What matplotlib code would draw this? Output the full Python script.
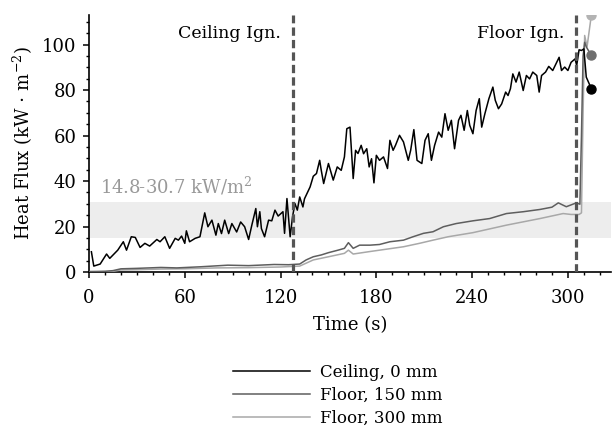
import numpy as np
import matplotlib
matplotlib.use('Agg')
import matplotlib.pyplot as plt
from matplotlib.ticker import MultipleLocator

plt.rcParams['font.family'] = ['DejaVu Serif']
plt.rcParams['mathtext.fontset'] = 'dejavuserif'

# ceiling heat flux gauge (0 mm)
ceiling_t = [1.5, 3, 7, 11, 13, 18, 21.5, 23.5, 26.5, 29, 32, 35, 38, 42.5, 44.5, 47.5, 50.5, 54, 56, 58,
             60, 61, 63, 66.5, 69.5, 72.5, 74.5, 77, 79.5, 81, 83, 85, 87.5, 89.5, 92.5, 95, 97.5, 100, 102,
             104.5, 105.5, 107, 108, 110, 112.5, 114.5, 116.5, 118.5, 121.5, 122.5, 124, 126, 127.5, 129,
             130.5, 132, 134, 135, 138.5, 140.5, 142.5, 144.5, 145.5, 147, 150, 153, 155.5, 158, 160, 161.5,
             163.5, 165.5, 167, 168.5, 170.5, 172, 174, 175.5, 177, 178.5, 180, 182, 184.5, 187, 188.5,
             190.5, 192, 194.5, 197, 200, 201.5, 203.5, 205.5, 208.5, 210.5, 212.5, 214.5, 216.5, 219, 221,
             223, 225, 227, 229, 231.5, 233, 235, 237, 238.5, 240.5, 242.5, 244.5, 246, 248, 250.5, 253,
             254.5, 256.5, 258.5, 261, 262.5, 264, 265.5, 267.5, 269.5, 272, 274, 276, 278, 280.5, 282,
             283.5, 286, 288, 290.5, 293, 294.5, 296, 298, 300, 302, 304.5, 305.5, 307, 308.5, 310, 311.5,
             314.7]
ceiling_v = [8.9, 2.6, 3.5, 7.9, 6, 9.6, 13.3, 9.6, 15.5, 15.2, 10.8, 12.6, 11.4, 14.3, 13.3, 15.5, 10.4,
             14.8, 14, 15.8, 12.6, 18.1, 13.3, 14.8, 15.5, 26, 19.9, 22.8, 16.2, 21.3, 16.9, 22.8, 16.9,
             21.3, 17.6, 22, 19.9, 14.3, 20.6, 27.9, 19.9, 26.5, 19.1, 15.5, 22.8, 22.5, 27.2, 24.6, 26.5,
             17, 32.3, 15.5, 24.3, 30.1, 27.2, 33, 28.6, 32.2, 37.4, 42.1, 43.3, 49.1, 44.7, 38.9, 47.7,
             40.4, 46.2, 44.7, 50.6, 63, 63.7, 41.1, 53.5, 52.1, 55.7, 52, 54.2, 46.2, 49.8, 39.2, 51.3,
             49.1, 50.6, 45.5, 57.9, 53.5, 55.7, 60.1, 57.2, 49.1, 53.5, 62.6, 49.1, 47.7, 57.9, 60.8, 49.1,
             55.7, 61.5, 59.3, 69.6, 62.3, 66.7, 54.2, 66.7, 68.9, 62.3, 71, 64.5, 60.8, 71, 76.2, 63.7,
             69.6, 76.2, 81.3, 75.5, 71.8, 73.9, 79.1, 77.6, 80.6, 87.1, 83.5, 87.9, 79.8, 86.4, 84.9, 87.9,
             86.4, 79.1, 86.4, 87.9, 90.4, 88.6, 92.2, 94.4, 88.6, 90.1, 88.6, 92.2, 93.7, 90.8, 97.7, 97.4,
             98.1, 85.7, 80.6]

# floor gauge, 150 mm
floor150_t = [0, 10, 15, 20, 30, 45, 55, 70, 87, 100, 116, 125, 132, 136, 140.5, 145.5, 150, 156, 160,
              162.5, 165.5, 169.5, 176, 182, 188.5, 197, 203, 209.5, 215.5, 222, 230, 240.5, 251, 261.5,
              272, 282.5, 290, 294, 299, 305.3, 307.5, 308.5, 309.5, 310.5, 311.5, 314.7]
floor150_v = [0.2, 0.3, 0.6, 1.4, 1.6, 2, 1.8, 2.3, 3, 2.8, 3.3, 3.2, 3.5, 5.3, 6.7, 7.5, 8.5, 9.6, 10.4,
              12.9, 10.4, 11.8, 11.8, 12.1, 13.3, 14, 15.5, 17, 17.7, 19.9, 21.3, 22.5, 23.5, 25.7, 26.5,
              27.5, 28.5, 30.4, 28.7, 30.4, 29.8, 60, 95, 101, 99, 95.2]

# floor gauge, 300 mm
floor300_t = [0, 15, 20, 30, 45, 60, 80, 100, 120, 132, 140.5, 150, 160, 162.5, 165.5, 176, 186, 197, 207,
              215.5, 225, 240.5, 261.5, 282.5, 297, 302, 307, 308.5, 309.5, 310.5, 312, 314.7]
floor300_v = [0, 0.3, 0.9, 1.0, 1.3, 1.4, 1.8, 1.9, 2.2, 2.6, 5.3, 6.7, 8.2, 9.6, 7.9, 9, 10, 11.1, 12.6,
              14, 15.5, 17.3, 20.6, 23.5, 25.7, 25.3, 25.3, 26, 70, 104, 99, 113]

ign_t = [127.7, 305]
ign_labels = ['Ceiling Ign.', 'Floor Ign.']
band = (14.8, 30.7)

fig = plt.figure(figsize=(6.12, 4.37), dpi=100)
ax = fig.add_axes([89/612, 165/437, 522/612, 257/437])

ax.axhspan(band[0], band[1], color='#ededed', lw=0, zorder=0)
ax.text(7, 33, '14.8-30.7 kW/m$^2$', color='#999999', fontsize=13, va='bottom', ha='left')

series = [
    (floor300_t, floor300_v, '#a8a8a8', '#b3b3b3', 'Floor, 300 mm'),
    (floor150_t, floor150_v, '#5e5e5e', '#6e6e6e', 'Floor, 150 mm'),
    (ceiling_t, ceiling_v, '#000000', '#000000', 'Ceiling, 0 mm'),
]
handles = {}
for t, v, c, mc, lab in series:
    ln, = ax.plot(t, v, color=c, lw=1.1, label=lab, zorder=3)
    ax.plot(t[-1], v[-1], 'o', color=mc, ms=6.5, zorder=4)
    handles[lab] = ln

for x, lab in zip(ign_t, ign_labels):
    ax.axvline(x, color='#555555', lw=2.3, dashes=(2.6, 1.3), zorder=5)
    ax.text(x - 7.5, 105, lab, ha='right', va='center', fontsize=12.5)

ax.set_xlim(0, 327)
ax.set_ylim(0, 113)
ax.xaxis.set_major_locator(MultipleLocator(60))
ax.xaxis.set_minor_locator(MultipleLocator(10))
ax.yaxis.set_major_locator(MultipleLocator(20))
ax.yaxis.set_minor_locator(MultipleLocator(5))
ax.tick_params(which='major', direction='out', length=4.5, width=1.1, labelsize=13)
ax.tick_params(which='minor', direction='out', length=2.5, width=1.0)
ax.tick_params(axis='x', which='major', pad=8)
ax.tick_params(axis='y', which='major', pad=4.5)
for s in ['top', 'right']:
    ax.spines[s].set_visible(False)
for s in ['left', 'bottom']:
    ax.spines[s].set_linewidth(1.2)

ax.set_xlabel('Time (s)', fontsize=13, labelpad=6)
ax.set_ylabel('Heat Flux (kW $\\cdot$ m$^{\\mathregular{-2}}$)', fontsize=13, labelpad=5)

order = ['Ceiling, 0 mm', 'Floor, 150 mm', 'Floor, 300 mm']
fig.legend([handles[k] for k in order], order, loc='center', bbox_to_anchor=(338/612, 1 - 395/437),
           frameon=False, fontsize=12, handlelength=4.6, handletextpad=0.6, labelspacing=0.35)

fig.savefig('out.png', dpi=100)
